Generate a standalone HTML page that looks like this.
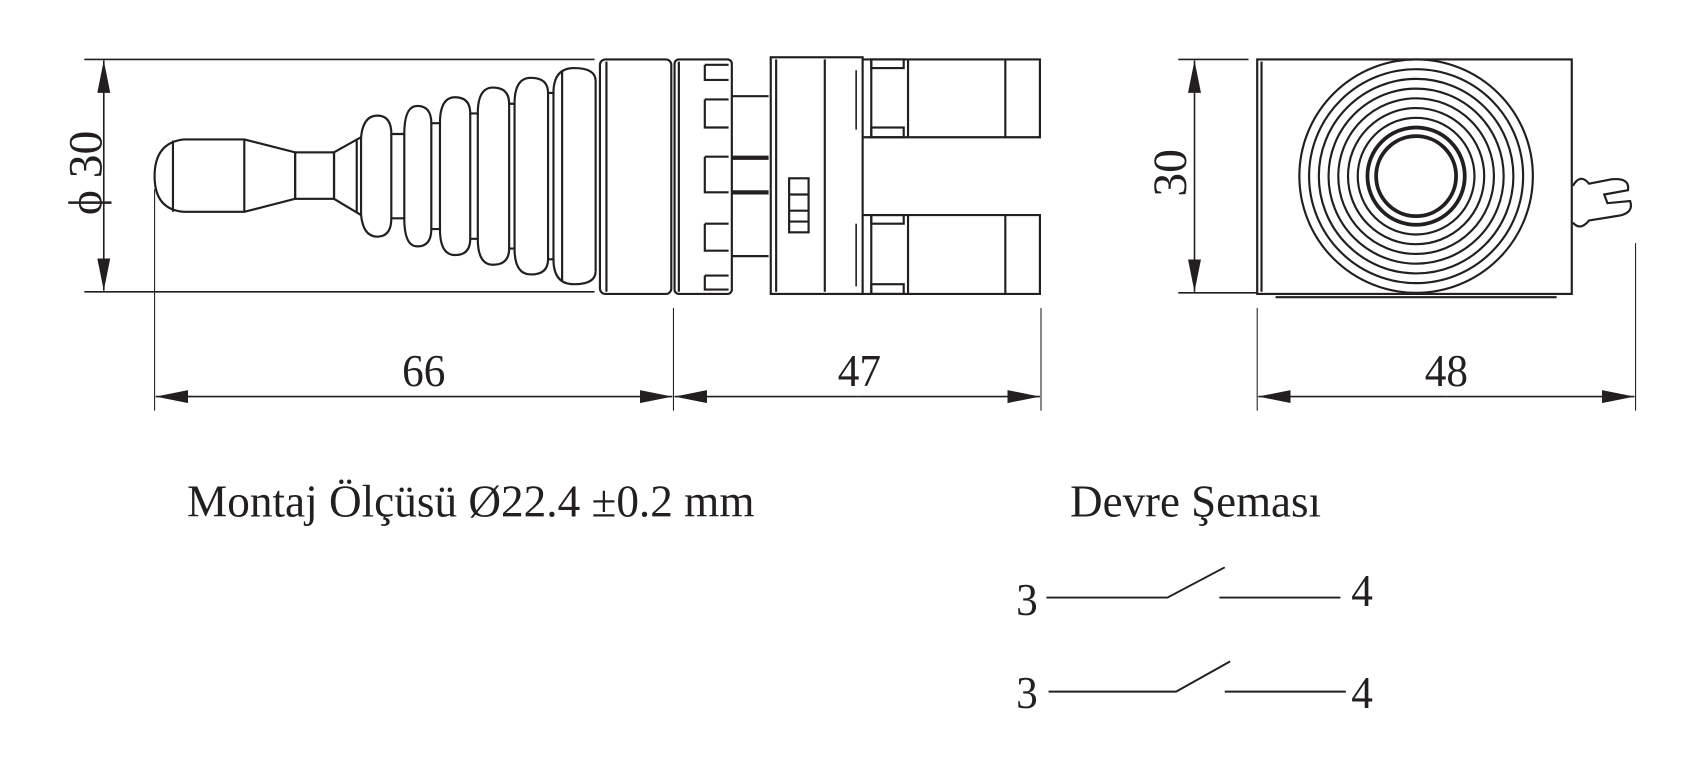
<!DOCTYPE html>
<html><head><meta charset="utf-8"><style>
html,body{margin:0;padding:0;background:#fff;width:1695px;height:764px;overflow:hidden}
svg{display:block}
text{font-family:"Liberation Serif",serif;fill:#231f20}
</style></head><body>
<svg width="1695" height="764" viewBox="0 0 1568 707" preserveAspectRatio="none" xmlns="http://www.w3.org/2000/svg">
<defs>
<marker id="a" viewBox="0 0 30 12" refX="30" refY="6" markerWidth="30" markerHeight="12" markerUnits="userSpaceOnUse" orient="auto"><path d="M0,0 L30,6 L0,12 Z" fill="#231f20"/></marker>
</defs>
<g stroke="#231f20" fill="none">
<line x1="78" y1="55" x2="550" y2="55" stroke-width="1.5"/>
<line x1="78" y1="270" x2="550" y2="270" stroke-width="1.5"/>
<line x1="96" y1="160" x2="96" y2="56" stroke-width="1.5" marker-end="url(#a)"/>
<line x1="96" y1="160" x2="96" y2="269" stroke-width="1.5" marker-end="url(#a)"/>
<line x1="143" y1="175" x2="143" y2="380" stroke-width="1"/>
<line x1="623" y1="285" x2="623" y2="380" stroke-width="1"/>
<line x1="963" y1="285" x2="963" y2="380" stroke-width="1"/>
<line x1="383" y1="367" x2="144" y2="367" stroke-width="1.5" marker-end="url(#a)"/>
<line x1="383" y1="367" x2="622" y2="367" stroke-width="1.5" marker-end="url(#a)"/>
<line x1="793" y1="367" x2="624" y2="367" stroke-width="1.5" marker-end="url(#a)"/>
<line x1="793" y1="367" x2="962" y2="367" stroke-width="1.5" marker-end="url(#a)"/>
<line x1="1163" y1="285" x2="1163" y2="380" stroke-width="1"/>
<line x1="1513" y1="225" x2="1513" y2="380" stroke-width="1"/>
<line x1="1338" y1="367" x2="1164" y2="367" stroke-width="1.5" marker-end="url(#a)"/>
<line x1="1338" y1="367" x2="1512" y2="367" stroke-width="1.5" marker-end="url(#a)"/>
<line x1="1090" y1="55" x2="1155" y2="55" stroke-width="1.5"/>
<line x1="1090" y1="271" x2="1163" y2="271" stroke-width="1.5"/>
<line x1="1105" y1="160" x2="1105" y2="56" stroke-width="1.5" marker-end="url(#a)"/>
<line x1="1105" y1="160" x2="1105" y2="270" stroke-width="1.5" marker-end="url(#a)"/>

<g stroke-width="2">
<path d="M226,129 L170,129 Q143,132 143,163 Q143,194 170,196 L226,196 L273,184 L273,141 Z"/>
<line x1="160" y1="130" x2="160" y2="196"/>
<line x1="226" y1="129" x2="226" y2="196"/>
<rect x="273" y="141" width="36" height="43"/>
<path d="M309,141 L334,127 L334,199 L309,184 Z"/>
<line x1="330" y1="130" x2="330" y2="196"/>
<path d="M334,127 Q336,107 349,107 Q362,107 362,124 L374,124 Q374,98 386,98 Q399,98 399,114 L407,114 Q407,90 421,90 Q435,90 435,105 L442,105 Q442,81 456,81 Q471,81 471,96 L476,96 Q476,72 491,72 Q507,72 507,86 L512,86 Q512,63 531,63 Q551,63 551,75"/>
<path d="M334,199 Q336,219 349,219 Q362,219 362,202 L374,202 Q374,228 386,228 Q399,228 399,212 L407,212 Q407,236 421,236 Q435,236 435,221 L442,221 Q442,245 456,245 Q471,245 471,230 L476,230 Q476,254 491,254 Q507,254 507,240 L512,240 Q512,263 531,263 Q551,263 551,251"/>
<line x1="362" y1="124" x2="362" y2="202"/><line x1="374" y1="124" x2="374" y2="202"/>
<line x1="399" y1="114" x2="399" y2="212"/><line x1="407" y1="114" x2="407" y2="212"/>
<line x1="435" y1="105" x2="435" y2="221"/><line x1="442" y1="105" x2="442" y2="221"/>
<line x1="471" y1="96" x2="471" y2="230"/><line x1="476" y1="96" x2="476" y2="230"/>
<line x1="507" y1="86" x2="507" y2="240"/><line x1="512" y1="86" x2="512" y2="240"/>
<line x1="520" y1="66" x2="520" y2="260"/><line x1="551" y1="75" x2="551" y2="251"/>
<rect x="555" y="55" width="66" height="217" rx="5"/>
<line x1="561" y1="57" x2="561" y2="270"/>
<rect x="624" y="55" width="53" height="217" rx="4"/>
<line x1="628" y1="57" x2="628" y2="270"/>
<path d="M652,60 L652,74 L674,74"/><path d="M652,92 L652,118 L674,118"/>
<path d="M652,145 L652,178 L674,178"/><path d="M652,207 L652,232 L674,232"/>
<path d="M652,255 L652,268 L674,268"/>
<path d="M652,92 L674,92"/><path d="M652,145 L674,145"/><path d="M652,207 L674,207"/><path d="M652,255 L674,255"/><path d="M652,60 L674,60"/>
<line x1="677" y1="89" x2="711" y2="89"/>
<line x1="677" y1="146" x2="711" y2="146" stroke-width="4"/>
<line x1="677" y1="178" x2="711" y2="178" stroke-width="4"/>
<line x1="677" y1="237" x2="711" y2="237"/>
<rect x="713" y="53" width="85" height="219"/>
<line x1="718" y1="55" x2="718" y2="270"/>
<line x1="763" y1="55" x2="763" y2="270"/>
<rect x="730" y="165" width="18" height="50"/>
<line x1="730" y1="180" x2="748" y2="180"/><line x1="730" y1="195" x2="748" y2="195"/><line x1="730" y1="205" x2="748" y2="205"/>
<path d="M798,55 L962,55 L962,127 L798,127"/>
<path d="M798,199 L962,199 L962,272 L798,272"/>
<line x1="840" y1="55" x2="840" y2="127"/><line x1="930" y1="55" x2="930" y2="127"/>
<line x1="840" y1="199" x2="840" y2="272"/><line x1="930" y1="199" x2="930" y2="272"/>
<line x1="806" y1="55" x2="806" y2="127"/><line x1="806" y1="199" x2="806" y2="272"/>
<rect x="806" y="55" width="30" height="8"/><rect x="806" y="118" width="30" height="9"/>
<rect x="806" y="199" width="30" height="8"/><rect x="806" y="263" width="30" height="9"/>
<line x1="792" y1="65" x2="792" y2="120" stroke-width="1.5"/><line x1="792" y1="207" x2="792" y2="265" stroke-width="1.5"/>
<rect x="1163" y="55" width="291" height="217"/>
<line x1="1167" y1="57" x2="1167" y2="270"/>
<line x1="1180" y1="275" x2="1440" y2="275"/>
<circle cx="1310" cy="163" r="108"/>
<circle cx="1310" cy="163" r="99"/>
<circle cx="1310" cy="163" r="90"/>
<circle cx="1310" cy="163" r="81"/>
<circle cx="1310" cy="163" r="72"/>
<circle cx="1310" cy="163" r="63"/>
<circle cx="1310" cy="163" r="54"/>
<circle cx="1310" cy="163" r="45" stroke-width="3.5"/>
<circle cx="1310" cy="163" r="37" stroke-width="3.5"/>
<path d="M1455,172 Q1462,160 1470,170 L1490,166 Q1508,164 1506,176 L1484,180 L1487,188 L1508,186 Q1512,198 1495,200 L1470,204 Q1462,214 1455,206"/>
<polyline points="968,553 1080,553 1133,525" stroke-width="1.8"/>
<line x1="1128" y1="553" x2="1240" y2="553" stroke-width="1.8"/>
<polyline points="970,640 1088,640 1138,612" stroke-width="1.8"/>
<line x1="1133" y1="640" x2="1245" y2="640" stroke-width="1.8"/>
</g>
</g>
<text x="0" y="0" font-size="44" transform="translate(96,160) rotate(-90)" text-anchor="middle" dy="-2">ϕ 30</text>
<text x="0" y="0" font-size="44" transform="translate(1097,160) rotate(-90)" text-anchor="middle">30</text>
<text x="392" y="357" font-size="42" text-anchor="middle" textLength="40" lengthAdjust="spacingAndGlyphs">66</text>
<text x="795" y="357" font-size="42" text-anchor="middle" textLength="40" lengthAdjust="spacingAndGlyphs">47</text>
<text x="1338" y="357" font-size="42" text-anchor="middle" textLength="40" lengthAdjust="spacingAndGlyphs">48</text>
<text x="173" y="478" font-size="42" textLength="525" lengthAdjust="spacingAndGlyphs">Montaj Ölçüsü Ø22.4 ±0.2 mm</text>
<text x="990" y="478" font-size="42" textLength="232" lengthAdjust="spacingAndGlyphs">Devre Şeması</text>
<text x="940" y="569" font-size="42" textLength="20" lengthAdjust="spacingAndGlyphs">3</text>
<text x="1250" y="561" font-size="42" textLength="20" lengthAdjust="spacingAndGlyphs">4</text>
<text x="940" y="655" font-size="42" textLength="20" lengthAdjust="spacingAndGlyphs">3</text>
<text x="1250" y="655" font-size="42" textLength="20" lengthAdjust="spacingAndGlyphs">4</text>
</svg>
</body></html>
